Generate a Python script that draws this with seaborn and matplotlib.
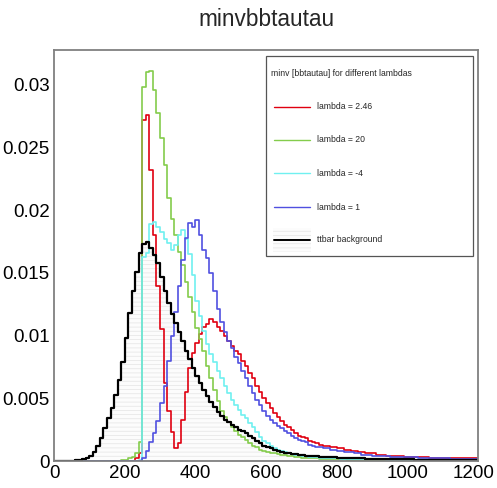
import numpy as np
import pandas as pd
import matplotlib
matplotlib.use("Agg")
import matplotlib.pyplot as plt
import seaborn as sns
from matplotlib.patches import Rectangle
from matplotlib.lines import Line2D
from matplotlib.transforms import ScaledTranslation

# histogram binning (10 GeV bins from 0 to 1200)
bin_edges = list(range(0, 1210, 10))

# bin contents, one value per bin
lambda_246 = [0] * 23 + [
    0.0002, 0.0006,
    0.0272, 0.0276, 0.0232, 0.0180, 0.0140,
    0.0105, 0.0062, 0.0040, 0.0023, 0.0010, 0.0014, 0.0033, 0.0055, 0.0074, 0.0086,
    0.0094, 0.0101, 0.0107, 0.0109, 0.0113, 0.0111, 0.0107, 0.0104, 0.0100, 0.0096,
    0.0092, 0.0088, 0.0085, 0.0080, 0.0076, 0.0070, 0.0066, 0.0060, 0.0055, 0.0050,
    0.0046, 0.0042, 0.0038, 0.0035, 0.0032, 0.0029, 0.0027, 0.0025, 0.0022, 0.0020,
    0.0019, 0.0018, 0.0016, 0.0015, 0.0014, 0.0013, 0.0012, 0.0012, 0.0011, 0.0011,
    0.0010, 0.0010, 0.0009, 0.0009, 0.0008, 0.0008, 0.0007, 0.0007, 0.0006, 0.0006,
    0.0006, 0.0005, 0.0005, 0.0005, 0.0004, 0.0004, 0.0004, 0.0004, 0.0004, 0.0003,
    0.0003, 0.0003, 0.0003, 0.0003, 0.0003, 0.00028, 0.00027, 0.00026, 0.00025, 0.00025,
    0.00024, 0.00024, 0.00023, 0.00022, 0.00022, 0.00021, 0.00021, 0.0002, 0.0002, 0.0002,
]

lambda_20 = [0] * 19 + [
    0.00005,
    0.0001, 0.0002, 0.0003, 0.0006, 0.0015, 0.0298, 0.0310, 0.0311, 0.0296, 0.0278,
    0.0258, 0.0236, 0.0210, 0.0193, 0.0180, 0.0167, 0.0156, 0.0143, 0.0131, 0.0119,
    0.0106, 0.0097, 0.0088, 0.0076, 0.0066, 0.0057, 0.0048, 0.0040, 0.0035, 0.0031,
    0.0027, 0.0024, 0.0021, 0.0019, 0.0017, 0.0014, 0.0012, 0.0011, 0.0009, 0.0008,
    0.0007, 0.00065, 0.0006, 0.00055, 0.0005, 0.00045, 0.0004, 0.00036, 0.00033, 0.0003,
    0.00027, 0.00025, 0.00023, 0.00021, 0.0002, 0.00018, 0.00017, 0.00016, 0.00015, 0.00014,
    0.00013, 0.00012, 0.00012, 0.00011, 0.0001, 0.0001, 0.00009, 0.00009, 0.00008, 0.00008,
    0.00007, 0.00007, 0.00007, 0.00006, 0.00006, 0.00006, 0.00005, 0.00005, 0.00005, 0.00005,
    0.00004, 0.00004, 0.00004, 0.00004, 0.00004, 0.00004, 0.00004, 0.00004, 0.00004, 0.00004,
    0.00003, 0.00003, 0.00003, 0.00003, 0.00003, 0.00003, 0.00003, 0.00003, 0.00003, 0.00003,
]

lambda_m4 = [0] * 24 + [
    0.0001,
    0.0163, 0.0166, 0.0189, 0.0191, 0.0187,
    0.0183, 0.0177, 0.0174, 0.0168, 0.0172, 0.0180, 0.0184, 0.0177, 0.0165, 0.0148,
    0.0128, 0.0116, 0.0104, 0.0093, 0.0085, 0.0079, 0.0072, 0.0066, 0.0060, 0.0054,
    0.0049, 0.0045, 0.0041, 0.0037, 0.0034, 0.0030, 0.0027, 0.0023, 0.0019, 0.0016,
    0.0014, 0.0012, 0.0010, 0.0009, 0.0008, 0.0007, 0.0006, 0.00055, 0.0005, 0.00045,
    0.0004, 0.00037, 0.00034, 0.00031, 0.00028, 0.00026, 0.00024, 0.00022, 0.00021, 0.0002,
    0.0002, 0.00019, 0.00018, 0.00017, 0.00016, 0.00016, 0.00015, 0.00015, 0.00014, 0.00014,
    0.00013, 0.00013, 0.00012, 0.00012, 0.00011, 0.00011, 0.0001, 0.0001, 0.0001, 0.0001,
    0.00009, 0.00009, 0.00009, 0.00009, 0.00009, 0.00009, 0.00009, 0.00009, 0.00009, 0.00009,
    0.00008, 0.00008, 0.00008, 0.00008, 0.00008, 0.00008, 0.00008, 0.00008, 0.00008, 0.00008,
]

lambda_1 = [0] * 25 + [
    0.0002, 0.0008, 0.0015, 0.0022, 0.0032,
    0.0046, 0.0060, 0.0080, 0.0100, 0.0119, 0.0140, 0.0160, 0.0178, 0.0190, 0.0187,
    0.0192, 0.0180, 0.0168, 0.0162, 0.0150, 0.0136, 0.0121, 0.0111, 0.0103, 0.0096,
    0.0090, 0.0083, 0.0078, 0.0072, 0.0066, 0.0060, 0.0054, 0.0049, 0.0045, 0.0040,
    0.0036, 0.0033, 0.0030, 0.0028, 0.0026, 0.0024, 0.0022, 0.0020, 0.0018, 0.0017,
    0.0016, 0.0015, 0.0013, 0.0012, 0.0011, 0.0011, 0.0010, 0.0010, 0.0009, 0.0009,
    0.0008, 0.0008, 0.0007, 0.0007, 0.0007, 0.0006, 0.0006, 0.0005, 0.0005, 0.0005,
    0.0004, 0.0004, 0.0004, 0.0004, 0.0004, 0.00035, 0.00035, 0.00033, 0.00032, 0.0003,
    0.0003, 0.00029, 0.00028, 0.00027, 0.00026, 0.00025, 0.00024, 0.00023, 0.00022, 0.00021,
    0.0002, 0.0002, 0.00019, 0.00018, 0.00018, 0.00017, 0.00016, 0.00016, 0.00015, 0.00015,
]

ttbar = [0] * 5 + [
    0.00002, 0.00004, 0.00008, 0.00015, 0.00025,
    0.0004, 0.0007, 0.0012, 0.0018, 0.0026, 0.0034, 0.0042, 0.0053, 0.0065, 0.0079,
    0.0098, 0.0118, 0.0136, 0.0151, 0.0166, 0.0173, 0.0175, 0.0170, 0.0164, 0.0158,
    0.0147, 0.0136, 0.0126, 0.0117, 0.0110, 0.0103, 0.0096, 0.0088, 0.0081, 0.0074,
    0.0068, 0.0062, 0.0057, 0.0052, 0.0047, 0.0043, 0.0039, 0.0036, 0.0033, 0.0031,
    0.0029, 0.0027, 0.0025, 0.0024, 0.0022, 0.0020, 0.0018, 0.0016, 0.0014, 0.0012,
    0.0011, 0.0010, 0.0009, 0.0008, 0.0007, 0.00066, 0.0006, 0.00056, 0.00052, 0.00048,
    0.00045, 0.00042, 0.0004, 0.00038, 0.00036, 0.00034, 0.00032, 0.0003, 0.00029, 0.00028,
    0.00026, 0.00025, 0.00024, 0.00023, 0.00022, 0.00021, 0.0002, 0.0002, 0.00019, 0.00018,
    0.00018, 0.00017, 0.00016, 0.00016, 0.00015, 0.00015, 0.00014, 0.00014, 0.00013, 0.00013,
    0.00012, 0.00012, 0.00011, 0.00011, 0.0001, 0.0001, 0.0001, 0.00009, 0.00009, 0.00009,
    0.00008, 0.00008, 0.00008, 0.00007, 0.00007, 0.00007, 0.00006, 0.00006, 0.00006, 0.00006,
]

signal_labels = ["lambda = 2.46", "lambda = 20", "lambda = -4", "lambda = 1"]
signal_colors = ["#e00010", "#84cc4c", "#70f0f0", "#5050e0"]
bkg_label = "ttbar background"

sns.set_style("white")
plt.rcParams['font.family'] = ['Liberation Sans', 'DejaVu Sans']
plt.rcParams['hatch.linewidth'] = 0.5

W, H = 497, 488
fig = plt.figure(figsize=(W / 100, H / 100), dpi=100)
ax = fig.add_axes([54 / W, 1 - 461 / H, 424 / W, 411 / H])

centers = np.array(bin_edges[:-1]) + 5

# faint hatched area under the background
ax.fill_between(bin_edges, np.append(ttbar, ttbar[-1]), step="post",
                facecolor="#fcfcfc", edgecolor="#e4e4e4", hatch="----", linewidth=0)

for vals, col in zip([lambda_246, lambda_20, lambda_m4, lambda_1], signal_colors):
    df = pd.DataFrame({"minv": centers, "w": vals})
    sns.histplot(data=df, x="minv", weights="w", bins=bin_edges, element="step", fill=False,
                 color=col, linewidth=1.2, ax=ax)
df_bkg = pd.DataFrame({"minv": centers, "w": ttbar})
sns.histplot(data=df_bkg, x="minv", weights="w", bins=bin_edges, element="step", fill=False,
             color="black", linewidth=1.6, ax=ax)

ax.set_xlim(0, 1200)
ax.set_ylim(0, 0.03279)
ax.set_xlabel("")
ax.set_ylabel("")
ax.set_xticks(np.arange(0, 1201, 200))
ax.set_xticks(np.arange(0, 1201, 50), minor=True)
ax.set_yticks([0, 0.005, 0.01, 0.015, 0.02, 0.025, 0.03])
ax.set_yticklabels(["0", "0.005", "0.01", "0.015", "0.02", "0.025", "0.03"])
ax.set_yticks(np.arange(0, 0.0325, 0.001), minor=True)
ax.tick_params(which="both", direction="in", top=False, right=False, colors="black",
               labelsize=13.5, width=0.8)
ax.tick_params(which="major", length=9)
ax.tick_params(which="minor", length=5)
ax.tick_params(axis="y", pad=3)
ax.tick_params(axis="x", pad=3)
for sp in ax.spines.values():
    sp.set_color("#808080")
    sp.set_linewidth(1.3)

# keep the last x label inside the canvas
last = ax.get_xticklabels()[-1]
last.set_transform(last.get_transform() + ScaledTranslation(-4 / 100, 0, fig.dpi_scale_trans))

fig.text(266 / W, 1 - 20 / H, "minvbbtautau", ha="center", va="center", fontsize=16.3)

# legend box drawn in pixel positions
def fx(x):
    return x / W

def fy(y):
    return 1 - y / H

fig.patches.append(Rectangle((fx(266), fy(256)), 207 / W, 200 / H, transform=fig.transFigure,
                             facecolor="white", edgecolor="#555555", linewidth=0.9, zorder=5))
fig.text(fx(271), fy(73), "minv [bbtautau] for different lambdas", fontsize=6.2,
         va="center", ha="left", zorder=6)
rows = [107, 140, 173, 207]
for yy, lab, col in zip(rows, signal_labels, signal_colors):
    fig.lines.append(Line2D([fx(274), fx(310)], [fy(yy), fy(yy)], transform=fig.transFigure,
                            color=col, linewidth=1.0, zorder=6))
    fig.text(fx(317), fy(yy), lab, fontsize=6.2, va="center", ha="left", zorder=6)
fig.patches.append(Rectangle((fx(273), fy(252)), 38 / W, 24 / H, transform=fig.transFigure,
                             facecolor="#fcfcfc", edgecolor="#e4e4e4", hatch="----",
                             linewidth=0, zorder=6))
fig.lines.append(Line2D([fx(274), fx(310)], [fy(240), fy(240)], transform=fig.transFigure,
                        color="black", linewidth=1.4, zorder=7))
fig.text(fx(317), fy(240), bkg_label, fontsize=6.2, va="center", ha="left", zorder=6)

fig.savefig("out.png", dpi=100)
